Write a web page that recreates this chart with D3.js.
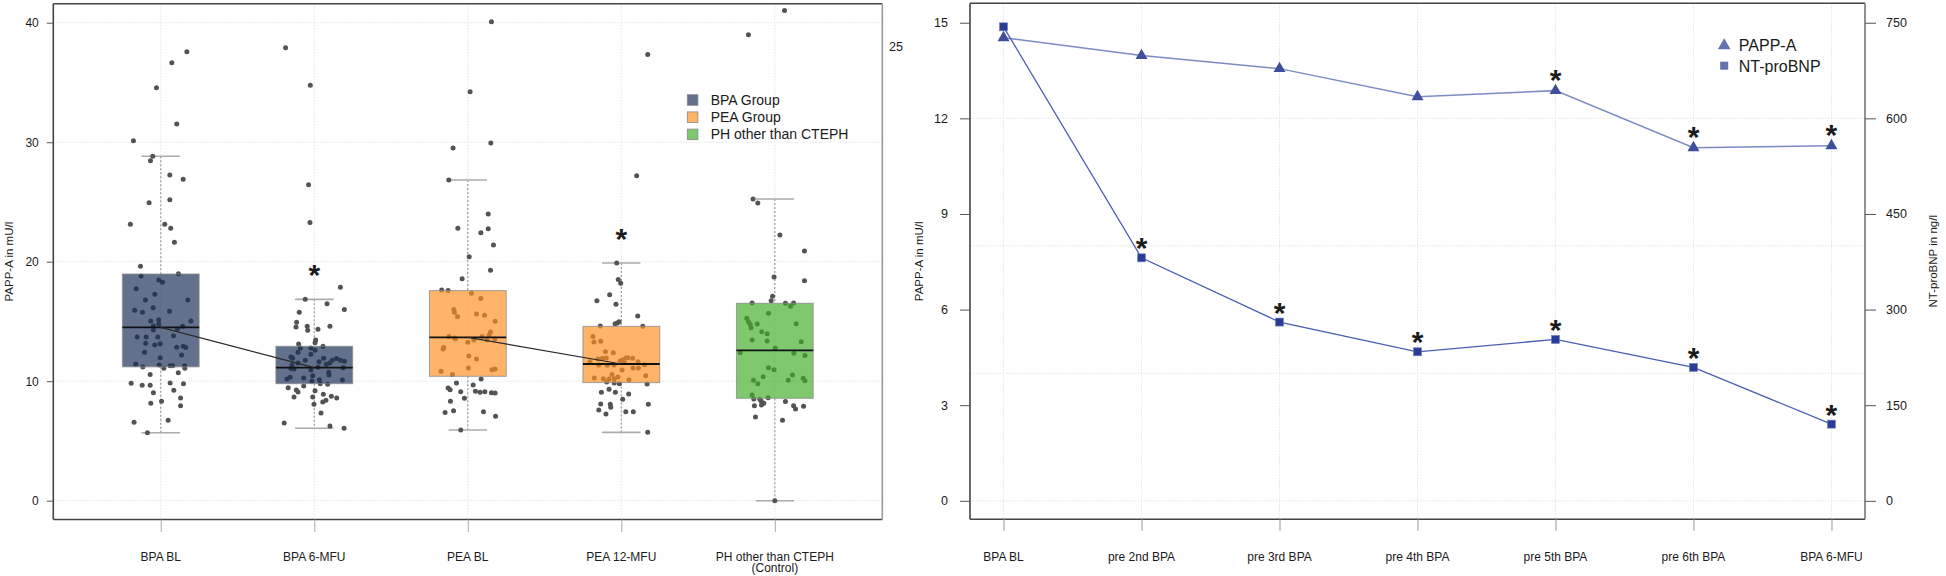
<!DOCTYPE html>
<html><head><meta charset="utf-8">
<script src="https://cdn.jsdelivr.net/npm/d3@7"></script>
<style>
body{margin:0;background:#fff}
svg{display:block}
text{font-family:"Liberation Sans",Arial,sans-serif;fill:#1a1a1a}
</style>
</head><body>
<svg id="c" width="1946" height="576"></svg>
<script>
// ---------------- LEFT PANEL DATA ----------------
const groups = ["BPA BL","BPA 6-MFU","PEA BL","PEA 12-MFU","PH other than CTEPH"];
const groupSub = ["","","","","(Control)"];
const groupType = [0,0,1,1,2];
const legendLabels = ["BPA Group","PEA Group","PH other than CTEPH"];
const whiskerLow  = [5.69, 6.06, 5.92, 5.72, 0.0];
const q1          = [11.2, 9.79, 10.41, 9.88, 8.57];
const median      = [14.5, 11.13, 13.67, 11.44, 12.58];
const q3          = [18.97, 12.92, 17.58, 14.59, 16.52];
const whiskerHigh = [28.82, 16.85, 26.84, 19.89, 25.25];
const leftTicks = [0,10,20,30,40];
const leftStars = [1,3];
const medianLinks = [[0,1],[2,3]];
const strayLabel = "25";
// jittered observations: [jitter (category units), PAPP-A mU/l]
const ptsBpaBL = [[0.170,37.58],[0.072,36.66],[-0.028,34.56],[0.104,31.52],[-0.178,30.13],[-0.052,28.82],[-0.067,28.45],[0.059,27.26],[0.146,26.89],[-0.076,24.94],[0.059,25.19],[-0.198,23.13],[0.026,23.13],[0.065,22.79],[0.089,21.62],[-0.132,19.61],[-0.128,18.80],[0.115,19.00],[-0.013,18.47],[0.011,18.27],[-0.160,17.74],[-0.039,17.27],[-0.100,16.79],[0.176,16.79],[-0.050,16.15],[-0.170,15.93],[-0.119,15.76],[0.057,15.85],[-0.065,15.04],[-0.013,15.15],[0.196,15.04],[-0.013,14.79],[-0.048,14.62],[0.142,14.59],[-0.048,14.28],[0.109,14.37],[0.083,13.81],[-0.154,13.70],[-0.095,13.70],[-0.020,13.70],[-0.098,13.17],[-0.039,13.03],[-0.004,13.14],[0.104,12.83],[0.146,12.92],[0.163,12.81],[-0.106,12.42],[0.135,12.19],[-0.004,11.97],[-0.163,11.41],[-0.117,11.19],[-0.010,11.36],[0.020,11.08],[0.061,11.30],[0.078,11.30],[0.155,11.30],[0.157,11.08],[-0.069,10.55],[0.114,10.71],[-0.193,9.82],[-0.121,9.65],[-0.069,9.65],[0.061,9.85],[0.148,9.79],[0.085,9.24],[-0.048,9.04],[0.129,8.59],[-0.065,8.15],[0.005,8.32],[0.129,7.95],[-0.174,6.56],[0.048,6.73],[-0.087,5.69]];
const ptsBpa6 = [[-0.187,37.91],[-0.026,34.76],[-0.037,26.45],[-0.028,23.29],[0.170,17.86],[-0.059,16.85],[0.083,16.49],[0.196,16.01],[-0.098,15.76],[-0.115,14.93],[-0.119,14.54],[-0.046,14.59],[-0.043,14.26],[0.024,14.34],[0.102,14.59],[0.009,13.45],[0.005,13.22],[-0.102,13.11],[0.057,12.92],[-0.091,12.78],[-0.022,12.78],[0.005,12.58],[-0.106,12.42],[-0.152,12.03],[-0.022,12.25],[-0.141,11.91],[-0.059,11.75],[0.061,11.91],[0.031,11.63],[0.117,11.75],[0.144,11.89],[0.170,11.75],[0.196,11.66],[-0.106,11.52],[-0.145,11.36],[0.024,11.16],[0.078,11.41],[0.100,11.52],[0.189,11.13],[-0.132,11.02],[-0.152,11.07],[-0.022,10.94],[0.094,10.74],[-0.010,10.46],[0.096,10.52],[-0.178,10.18],[-0.157,10.32],[-0.069,10.27],[0.033,10.13],[-0.015,10.02],[0.183,10.10],[0.087,9.74],[0.039,9.79],[-0.170,9.46],[-0.069,9.60],[-0.117,9.26],[-0.106,9.10],[0.005,9.21],[0.059,8.90],[-0.132,8.68],[-0.010,8.68],[0.111,8.73],[0.146,8.59],[0.076,8.40],[0.055,8.26],[-0.002,8.06],[0.044,7.34],[-0.196,6.50],[0.102,6.25],[0.194,6.06]];
const ptsPeaBL = [[0.154,40.09],[0.015,34.23],[-0.096,29.51],[0.150,29.93],[-0.124,26.84],[0.133,23.99],[-0.065,22.79],[0.085,22.43],[0.133,22.76],[0.167,21.40],[0.009,20.42],[0.148,19.28],[-0.037,18.58],[-0.170,17.63],[-0.128,17.58],[0.024,17.35],[0.085,16.93],[-0.091,15.99],[-0.087,15.76],[-0.067,15.40],[0.057,15.62],[0.109,15.51],[0.178,15.01],[0.148,14.12],[0.139,13.87],[-0.124,13.73],[-0.087,13.62],[-0.080,13.56],[0.000,13.25],[0.039,13.45],[0.093,13.75],[0.126,13.45],[0.176,13.53],[-0.157,12.81],[-0.161,12.69],[0.007,12.11],[0.057,11.86],[0.004,11.10],[-0.174,10.83],[-0.100,10.55],[0.157,10.96],[0.178,11.02],[0.087,10.18],[-0.074,9.85],[0.035,9.68],[-0.128,9.43],[-0.115,9.29],[-0.046,9.12],[0.050,9.15],[0.080,9.07],[0.111,9.12],[0.154,9.04],[0.178,9.01],[-0.022,8.57],[-0.113,8.32],[-0.148,7.37],[-0.093,7.53],[0.102,7.45],[0.181,7.06],[-0.046,5.92]];
const ptsPea12 = [[0.172,37.35],[0.100,27.20],[-0.030,19.89],[-0.020,18.52],[-0.004,18.19],[-0.076,17.24],[-0.159,16.74],[-0.035,16.43],[0.107,15.46],[-0.041,14.81],[-0.026,14.87],[-0.015,14.98],[-0.137,14.62],[0.140,14.59],[-0.185,13.75],[-0.178,13.28],[-0.134,13.34],[-0.104,12.47],[-0.052,12.39],[-0.124,11.91],[-0.152,11.86],[-0.098,11.94],[0.007,11.77],[0.029,11.94],[0.042,11.97],[0.074,11.91],[-0.204,11.63],[-0.147,11.36],[-0.091,11.33],[-0.048,11.36],[-0.008,11.69],[0.020,11.55],[0.109,11.63],[0.152,11.38],[0.076,11.10],[0.111,11.10],[0.005,10.94],[-0.061,10.55],[-0.176,10.27],[-0.117,10.21],[-0.080,10.18],[-0.046,10.21],[-0.022,10.35],[0.050,10.13],[0.159,10.46],[-0.095,9.93],[-0.046,9.85],[-0.013,9.79],[0.168,9.77],[-0.080,9.32],[-0.130,9.07],[-0.039,9.07],[0.048,8.93],[0.009,8.48],[0.176,8.06],[-0.134,8.09],[-0.072,8.06],[-0.147,7.59],[-0.069,7.81],[-0.100,7.26],[0.029,7.45],[0.078,7.45],[0.172,5.72]];
const ptsPH = [[0.063,41.03],[-0.172,39.00],[-0.142,25.25],[-0.111,24.91],[0.033,22.23],[0.193,20.90],[-0.005,18.72],[0.193,18.41],[-0.015,17.10],[-0.024,16.74],[-0.148,16.54],[0.069,16.52],[0.122,16.54],[0.102,16.27],[-0.041,15.68],[-0.183,15.26],[-0.172,14.98],[-0.161,14.76],[-0.115,14.79],[-0.155,14.48],[-0.085,14.14],[-0.050,13.98],[0.139,14.81],[-0.148,13.45],[-0.050,13.36],[0.172,13.31],[0.002,12.78],[-0.226,12.39],[0.124,12.33],[0.196,12.16],[-0.041,11.13],[-0.005,10.96],[-0.076,10.38],[0.115,10.52],[-0.139,10.07],[-0.111,9.79],[0.087,10.07],[0.185,10.24],[0.196,10.04],[-0.148,8.85],[-0.137,8.51],[-0.098,8.48],[-0.044,8.62],[-0.089,8.34],[-0.072,8.15],[-0.133,7.95],[-0.087,8.01],[0.069,8.29],[0.122,7.95],[0.135,7.67],[0.187,7.90],[-0.126,7.00],[0.050,6.73],[0.000,0.00]];
const groupPoints = [ptsBpaBL, ptsBpa6, ptsPeaBL, ptsPea12, ptsPH];

// ---------------- RIGHT PANEL DATA ----------------
const visits = ["BPA BL","pre 2nd BPA","pre 3rd BPA","pre 4th BPA","pre 5th BPA","pre 6th BPA","BPA 6-MFU"];
const pappA    = [14.53, 13.97, 13.56, 12.68, 12.87, 11.08, 11.14];
const ntProBNP = [743.6, 381.2, 280.4, 233.8, 253.2, 209.3, 120.3];
const pappStars = [false,false,false,false,true,true,true];
const ntStars   = [false,true,true,true,true,true,true];
const pappTicks = [0,3,6,9,12,15];
const ntTicks = [0,150,300,450,600,750];
const rightGrid = [0,4,8,12];
const seriesNames = ["PAPP-A","NT-proBNP"];

// ---------------- STYLE ----------------
const boxColors = ["rgb(24,43,84)","rgb(255,143,31)","rgb(66,173,42)"];
const boxAlpha = 0.67;
const dotColor = "#535353";
const gridColor = "#e4e4e4";

const svg = d3.select("#c");

// ================= LEFT PANEL =================
const L = {x0:53.3, x1:882.3, y0:3.8, y1:519.5};
const xL = d3.scaleLinear().domain([0.3,5.7]).range([L.x0,L.x1]);
const yL = d3.scaleLinear().domain([-1.6,41.6]).range([519.8,3.6]);
const gL = svg.append("g");

gL.selectAll(".hg").data(leftTicks).join("line")
  .attr("x1",L.x0).attr("x2",L.x1).attr("y1",d=>yL(d)).attr("y2",d=>yL(d))
  .attr("stroke",gridColor).attr("stroke-dasharray","1.5,1.5");
gL.selectAll(".vg").data(groups).join("line")
  .attr("x1",(d,i)=>xL(i+1)).attr("x2",(d,i)=>xL(i+1)).attr("y1",L.y0).attr("y2",L.y1)
  .attr("stroke",gridColor).attr("stroke-dasharray","1.5,1.5");

const halfCap = 0.125, halfBox = 0.25;
groups.forEach((g,i)=>{
  const c = i+1;
  gL.append("line").attr("x1",xL(c)).attr("x2",xL(c)).attr("y1",yL(whiskerHigh[i])).attr("y2",yL(q3[i]))
    .attr("stroke","#9a9a9a").attr("stroke-dasharray","2,2").attr("stroke-width",1.2);
  gL.append("line").attr("x1",xL(c)).attr("x2",xL(c)).attr("y1",yL(q1[i])).attr("y2",yL(whiskerLow[i]))
    .attr("stroke","#9a9a9a").attr("stroke-dasharray","2,2").attr("stroke-width",1.2);
  [whiskerHigh[i],whiskerLow[i]].forEach(v=>{
    gL.append("line").attr("x1",xL(c-halfCap)).attr("x2",xL(c+halfCap)).attr("y1",yL(v)).attr("y2",yL(v))
      .attr("stroke","#ababab").attr("stroke-width",1.6);
  });
});

groupPoints.forEach((pts,i)=>{
  gL.append("g").selectAll("circle").data(pts).join("circle")
    .attr("cx",d=>xL(i+1+d[0])).attr("cy",d=>yL(d[1])).attr("r",2.5).attr("fill",dotColor);
});

groups.forEach((g,i)=>{
  const c = i+1;
  gL.append("rect").attr("x",xL(c-halfBox)).attr("width",xL(c+halfBox)-xL(c-halfBox))
    .attr("y",yL(q3[i])).attr("height",yL(q1[i])-yL(q3[i]))
    .attr("fill",boxColors[groupType[i]]).attr("fill-opacity",boxAlpha)
    .attr("stroke","#8c8c8c").attr("stroke-width",1).attr("stroke-opacity",0.8);
  gL.append("line").attr("x1",xL(c-halfBox)).attr("x2",xL(c+halfBox)).attr("y1",yL(median[i])).attr("y2",yL(median[i]))
    .attr("stroke","#111").attr("stroke-width",1.8);
});
medianLinks.forEach(([a,b])=>{
  gL.append("line").attr("x1",xL(a+1)).attr("y1",yL(median[a])).attr("x2",xL(b+1)).attr("y2",yL(median[b]))
    .attr("stroke","#2a2a2a").attr("stroke-width",1.2);
});
leftStars.forEach(i=>{
  gL.append("text").attr("x",xL(i+1)).attr("y",yL(whiskerHigh[i])-31+17)
    .attr("text-anchor","middle").style("font-size","30px").style("font-weight","bold").attr("fill","#000").text("*");
});

gL.append("line").attr("x1",L.x0).attr("x2",L.x0).attr("y1",L.y0).attr("y2",L.y1).attr("stroke","#444").attr("stroke-width",1.6);
gL.append("line").attr("x1",L.x0).attr("x2",L.x1).attr("y1",L.y0).attr("y2",L.y0).attr("stroke","#444").attr("stroke-width",1.6);
gL.append("line").attr("x1",L.x0).attr("x2",L.x1).attr("y1",L.y1).attr("y2",L.y1).attr("stroke","#444").attr("stroke-width",1.6);
gL.append("line").attr("x1",L.x1).attr("x2",L.x1).attr("y1",L.y0).attr("y2",L.y1).attr("stroke","#9a9a9a").attr("stroke-width",1.6);

const axL = gL.append("g").attr("transform",`translate(${L.x0},0)`)
  .call(d3.axisLeft(yL).tickValues(leftTicks).tickSize(6.5).tickPadding(8).tickFormat(d3.format("d")));
axL.select(".domain").remove();
axL.selectAll("line").attr("stroke","#555");
axL.selectAll("text").style("font-size","12px").attr("fill","#1a1a1a").style("font-family",'"Liberation Sans",Arial,sans-serif');

const axLB = gL.append("g").attr("transform",`translate(0,${L.y1})`)
  .call(d3.axisBottom(xL).tickValues(groups.map((d,i)=>i+1)).tickSize(12.5).tickFormat(""));
axLB.select(".domain").remove();
axLB.selectAll("line").attr("stroke","#aaa");
groups.forEach((g,i)=>{
  gL.append("text").attr("x",xL(i+1)).attr("y",561).attr("text-anchor","middle").style("font-size","12px").text(g);
  if(groupSub[i]) gL.append("text").attr("x",xL(i+1)).attr("y",571.5).attr("text-anchor","middle").style("font-size","12px").text(groupSub[i]);
});
gL.append("text").attr("transform",`translate(13,${(L.y0+L.y1)/2}) rotate(-90)`).attr("text-anchor","middle")
  .style("font-size","11.5px").text("PAPP-A in mU/l");
gL.append("text").attr("x",889).attr("y",51).style("font-size","12.5px").text(strayLabel);

const legL = gL.append("g");
legendLabels.forEach((lab,i)=>{
  const cy = 100 + i*17.2;
  legL.append("rect").attr("x",687.3).attr("y",cy-5.3).attr("width",10.6).attr("height",10.6)
    .attr("fill",boxColors[i]).attr("fill-opacity",boxAlpha).attr("stroke","#888").attr("stroke-width",0.8);
  legL.append("text").attr("x",710.7).attr("y",cy+5).style("font-size","14px").text(lab);
});

// ================= RIGHT PANEL =================
const R = {x0:970, x1:1865, y0:3.3, y1:519.3};
const xR = d3.scaleLinear().domain([-0.243,6.243]).range([R.x0,R.x1]);
const yR = d3.scaleLinear().domain([-0.58,15.61]).range([R.y1,R.y0]);
const yR2 = d3.scaleLinear().domain([-29,780.5]).range([R.y1,R.y0]);
const gR = svg.append("g");

gR.selectAll(".hg").data(rightGrid).join("line")
  .attr("x1",R.x0).attr("x2",R.x1).attr("y1",d=>yR(d)).attr("y2",d=>yR(d))
  .attr("stroke",gridColor).attr("stroke-dasharray","1.5,1.5");
gR.selectAll(".vg").data(visits).join("line")
  .attr("x1",(d,i)=>xR(i)).attr("x2",(d,i)=>xR(i)).attr("y1",R.y0).attr("y2",R.y1)
  .attr("stroke",gridColor).attr("stroke-dasharray","1.5,1.5");

gR.append("path").datum(pappA).attr("fill","none").attr("stroke","#7d8bc4").attr("stroke-width",1.5)
  .attr("d",d3.line().x((d,i)=>xR(i)).y(d=>yR(d)));
gR.append("path").datum(ntProBNP).attr("fill","none").attr("stroke","#4b5db3").attr("stroke-width",1.3)
  .attr("d",d3.line().x((d,i)=>xR(i)).y(d=>yR2(d)));

const tri = d3.symbol().type(d3.symbolTriangle).size(62);
gR.selectAll(".tri").data(pappA).join("path")
  .attr("d",tri).attr("transform",(d,i)=>`translate(${xR(i)},${yR(d)})`).attr("fill","#3f4f9c");
gR.selectAll(".sq").data(ntProBNP).join("rect")
  .attr("x",(d,i)=>xR(i)-4).attr("y",d=>yR2(d)-4).attr("width",8).attr("height",8)
  .attr("fill","#2a3d96").attr("stroke","#6f7fc0").attr("stroke-width",0.6);

pappA.forEach((v,i)=>{ if(pappStars[i]) gR.append("text").attr("x",xR(i)).attr("y",yR(v)-18+17)
  .attr("text-anchor","middle").style("font-size","30px").style("font-weight","bold").attr("fill","#000").text("*"); });
ntProBNP.forEach((v,i)=>{ if(ntStars[i]) gR.append("text").attr("x",xR(i)).attr("y",yR2(v)-16.5+17)
  .attr("text-anchor","middle").style("font-size","30px").style("font-weight","bold").attr("fill","#000").text("*"); });

gR.append("line").attr("x1",R.x0).attr("x2",R.x0).attr("y1",R.y0).attr("y2",R.y1).attr("stroke","#444").attr("stroke-width",1.6);
gR.append("line").attr("x1",R.x0).attr("x2",R.x1).attr("y1",R.y0).attr("y2",R.y0).attr("stroke","#444").attr("stroke-width",1.6);
gR.append("line").attr("x1",R.x0).attr("x2",R.x1).attr("y1",R.y1).attr("y2",R.y1).attr("stroke","#444").attr("stroke-width",1.6);
gR.append("line").attr("x1",R.x1).attr("x2",R.x1).attr("y1",R.y0).attr("y2",R.y1).attr("stroke","#777").attr("stroke-width",1.6);

const axR1 = gR.append("g").attr("transform",`translate(${R.x0},0)`)
  .call(d3.axisLeft(yR).tickValues(pappTicks).tickSize(10).tickPadding(12).tickFormat(d3.format("d")));
axR1.select(".domain").remove();
axR1.selectAll("line").attr("stroke","#555");
axR1.selectAll("text").style("font-size","12.5px").attr("fill","#1a1a1a").style("font-family",'"Liberation Sans",Arial,sans-serif');

const axR2 = gR.append("g").attr("transform",`translate(${R.x1},0)`)
  .call(d3.axisRight(yR2).tickValues(ntTicks).tickSize(11).tickPadding(10).tickFormat(d3.format("d")));
axR2.select(".domain").remove();
axR2.selectAll("line").attr("stroke","#555");
axR2.selectAll("text").style("font-size","12.5px").attr("fill","#1a1a1a").style("font-family",'"Liberation Sans",Arial,sans-serif');

const axRB = gR.append("g").attr("transform",`translate(0,${R.y1})`)
  .call(d3.axisBottom(xR).tickValues(visits.map((d,i)=>i)).tickSize(11.5).tickFormat(""));
axRB.select(".domain").remove();
axRB.selectAll("line").attr("stroke","#999");
visits.forEach((v,i)=>{
  gR.append("text").attr("x",xR(i)).attr("y",561).attr("text-anchor","middle").style("font-size","12px").text(v);
});
gR.append("text").attr("transform",`translate(923,${(R.y0+R.y1)/2}) rotate(-90)`).attr("text-anchor","middle")
  .style("font-size","11.5px").text("PAPP-A in mU/l");
gR.append("text").attr("transform",`translate(1937,${(R.y0+R.y1)/2}) rotate(-90)`).attr("text-anchor","middle")
  .style("font-size","11.5px").text("NT-proBNP in ng/l");

const legR = gR.append("g");
legR.append("path").attr("d",d3.symbol().type(d3.symbolTriangle).size(70)).attr("transform","translate(1724.2,45.5)").attr("fill","#6472b0");
legR.append("rect").attr("x",1720.2).attr("y",61.7).attr("width",8).attr("height",8).attr("fill","#6472b0");
legR.append("text").attr("x",1738.8).attr("y",51).style("font-size","16px").text(seriesNames[0]);
legR.append("text").attr("x",1738.8).attr("y",71.5).style("font-size","16px").text(seriesNames[1]);
</script>
</body></html>
